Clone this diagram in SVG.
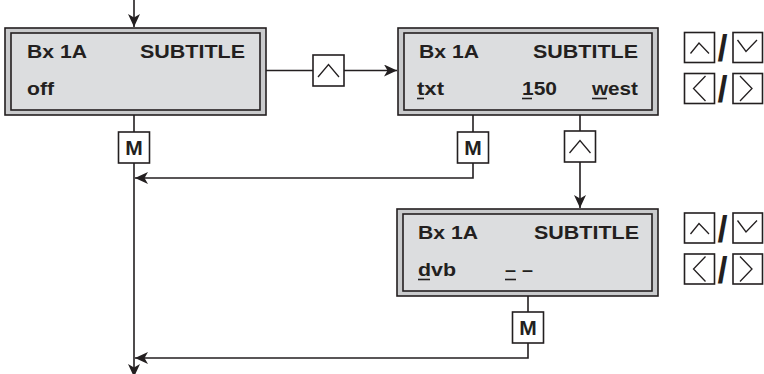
<svg xmlns="http://www.w3.org/2000/svg" width="764" height="374" viewBox="0 0 764 374">
<defs>
<style>
.outer{fill:#c9cacc;stroke:#231f20;stroke-width:1.6}
.inner{fill:#dcdddf;stroke:#231f20;stroke-width:1.6}
.t{font-family:"Liberation Sans",Arial,sans-serif;font-weight:bold;font-size:18.6px;fill:#231f20}
.m{font-family:"Liberation Sans",Arial,sans-serif;font-weight:bold;font-size:21px;fill:#231f20;text-anchor:middle}
.sl{font-family:"Liberation Sans",Arial,sans-serif;font-weight:bold;font-size:36px;fill:#231f20}
.key{fill:#fff;stroke:#231f20;stroke-width:1.6}
.chev{fill:none;stroke:#231f20;stroke-width:1.3}
.ul{stroke:#231f20;stroke-width:1.6}
.c{fill:none;stroke:#231f20;stroke-width:1.6}
</style>
<marker id="ah" markerUnits="userSpaceOnUse" markerWidth="15" markerHeight="13" refX="13" refY="6" orient="auto">
<path d="M0,0 L13,6 L0,12 L3.5,6 z" fill="#231f20"/>
</marker>
</defs>

<g id="connectors">
<path class="c" d="M134,0 V27" marker-end="url(#ah)"/>
<path class="c" d="M266,70.5 H313"/>
<path class="c" d="M344,70.5 H397" marker-end="url(#ah)"/>
<path class="c" d="M134,115 V132"/>
<path class="c" d="M134,163 V377" marker-end="url(#ah)"/>
<path class="c" d="M473,115 V132"/>
<path class="c" d="M473,163 V178 H135" marker-end="url(#ah)"/>
<path class="c" d="M580,115 V131"/>
<path class="c" d="M580,162 V208" marker-end="url(#ah)"/>
<path class="c" d="M528,296 V312"/>
<path class="c" d="M528,343 V358 H135" marker-end="url(#ah)"/>
</g>

<g id="box1">
<rect class="outer" x="5" y="28" width="261" height="87"/>
<rect class="inner" x="11" y="33" width="249" height="77"/>
<text class="t" x="27" y="58" textLength="60" lengthAdjust="spacingAndGlyphs">Bx 1A</text>
<text class="t" x="140" y="58" textLength="105" lengthAdjust="spacingAndGlyphs">SUBTITLE</text>
<text class="t" x="27" y="95" textLength="27" lengthAdjust="spacingAndGlyphs">off</text>
</g>

<g id="btn-up1">
<rect class="key" x="313" y="55" width="31" height="31"/>
<path class="chev" d="M318,77 L328.5,64.5 L339,77"/>
</g>

<g id="box2">
<rect class="outer" x="398" y="28" width="260" height="87"/>
<rect class="inner" x="404" y="33" width="248" height="77"/>
<text class="t" x="419" y="58" textLength="60" lengthAdjust="spacingAndGlyphs">Bx 1A</text>
<text class="t" x="533" y="58" textLength="105" lengthAdjust="spacingAndGlyphs">SUBTITLE</text>
<text class="t" x="417" y="95" textLength="27" lengthAdjust="spacingAndGlyphs">txt</text>
<text class="t" x="522" y="95" textLength="35" lengthAdjust="spacingAndGlyphs">150</text>
<text class="t" x="592" y="95" textLength="46" lengthAdjust="spacingAndGlyphs">west</text>
<line class="ul" x1="417" y1="98.5" x2="424" y2="98.5"/>
<line class="ul" x1="522" y1="98.5" x2="532" y2="98.5"/>
<line class="ul" x1="592" y1="98.5" x2="607" y2="98.5"/>
</g>

<g id="keys1">
<rect class="key" x="684.5" y="32.5" width="30" height="30"/>
<path class="chev" d="M690.5,53.5 L699,43 L709,53.5"/>
<text class="sl" x="717.5" y="61">/</text>
<rect class="key" x="733" y="32.5" width="29.5" height="30"/>
<path class="chev" d="M737.5,40 L746,51.5 L757,40"/>
<rect class="key" x="684.5" y="73.5" width="30" height="30"/>
<path class="chev" d="M705.5,76 L693.5,88.5 L705.5,101"/>
<text class="sl" x="717.5" y="102">/</text>
<rect class="key" x="733" y="73.5" width="29.5" height="30"/>
<path class="chev" d="M740,76 L752,88.5 L740,101"/>
</g>

<g id="m1">
<rect class="key" x="118.5" y="132" width="31" height="31"/>
<text class="m" x="134" y="155">M</text>
</g>

<g id="m2">
<rect class="key" x="457.5" y="132" width="31" height="31"/>
<text class="m" x="473" y="155">M</text>
</g>

<g id="btn-up2">
<rect class="key" x="564.5" y="131" width="31" height="31"/>
<path class="chev" d="M569.5,153 L580,140.5 L590.5,153"/>
</g>

<g id="box3">
<rect class="outer" x="397" y="209" width="261" height="87"/>
<rect class="inner" x="403" y="214" width="249" height="77"/>
<text class="t" x="418" y="239" textLength="60" lengthAdjust="spacingAndGlyphs">Bx 1A</text>
<text class="t" x="534" y="239" textLength="105" lengthAdjust="spacingAndGlyphs">SUBTITLE</text>
<text class="t" x="418" y="276" textLength="38" lengthAdjust="spacingAndGlyphs">dvb</text>
<text class="t" x="505" y="276" textLength="11" lengthAdjust="spacingAndGlyphs">–</text>
<text class="t" x="522" y="276" textLength="11" lengthAdjust="spacingAndGlyphs">–</text>
<line class="ul" x1="418" y1="279.5" x2="430" y2="279.5"/>
<line class="ul" x1="505" y1="279.5" x2="516" y2="279.5"/>
</g>

<g id="keys2">
<rect class="key" x="684.5" y="213" width="30" height="30"/>
<path class="chev" d="M690.5,234 L699,223.5 L709,234"/>
<text class="sl" x="717.5" y="241.5">/</text>
<rect class="key" x="733" y="213" width="29.5" height="30"/>
<path class="chev" d="M737.5,220.5 L746,232 L757,220.5"/>
<rect class="key" x="684.5" y="254" width="30" height="30"/>
<path class="chev" d="M705.5,256.5 L693.5,269 L705.5,281.5"/>
<text class="sl" x="717.5" y="282.5">/</text>
<rect class="key" x="733" y="254" width="29.5" height="30"/>
<path class="chev" d="M740,256.5 L752,269 L740,281.5"/>
</g>

<g id="m3">
<rect class="key" x="512.5" y="312" width="31" height="31"/>
<text class="m" x="528" y="335">M</text>
</g>
</svg>
